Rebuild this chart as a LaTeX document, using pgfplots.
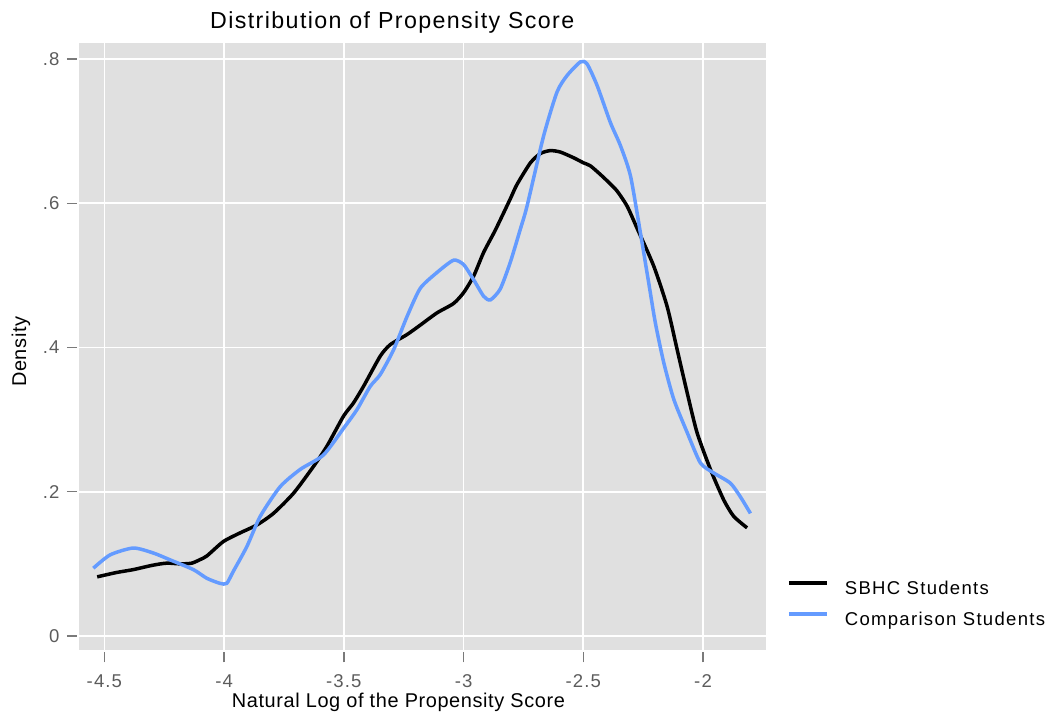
\documentclass[border=0pt]{standalone}
\usepackage{fontspec}
\setmainfont{Liberation Sans}
\newfontfamily\ttlF{Liberation Sans}[LetterSpace=6]
\newfontfamily\labF{Liberation Sans}[LetterSpace=3]
\newfontfamily\tckF{Liberation Sans}[LetterSpace=6]
\newfontfamily\legF{Liberation Sans}[LetterSpace=7]
\newcommand\titlefont{\ttlF\fontsize{23.3}{28}\selectfont}
\newcommand\labfont{\labF\fontsize{20}{24}\selectfont}
\newcommand\tickfont{\tckF\fontsize{18.6}{22}\selectfont}
\newcommand\legfont{\legF\fontsize{18.6}{22}\selectfont}
\usepackage{pgfplots}
\pgfplotsset{compat=1.18}
\definecolor{bgGray}{HTML}{E0E0E0}
\definecolor{blueLine}{RGB}{100,155,255}
\definecolor{tickGray}{HTML}{7A7A7A}
\definecolor{labGray}{HTML}{5C5C5C}
\begin{document}
\begin{tikzpicture}
\path[use as bounding box] (0,0) rectangle (1053bp,717bp);
\begin{axis}[
  at={(79bp,67bp)}, anchor=south west,
  scale only axis, width=687bp, height=607bp,
  xmin=-4.606, xmax=-1.737, ymin=-0.0194, ymax=0.8222,
  axis background/.style={fill=bgGray},
  axis line style={draw=none},
  xmajorgrids, ymajorgrids,
  major grid style={white, line width=1.6bp},
  xtick={-4.5,-4,-3.5,-3,-2.5,-2},
  xticklabels={-4.5,-4,-3.5,-3,-2.5,-2},
  ytick={0,0.2,0.4,0.6,0.8},
  yticklabels={0,.2,.4,.6,.8},
  xtick pos=bottom, ytick pos=left,
  tick align=outside,
  major tick length=10bp,
  tick style={tickGray, line width=1.4bp},
  xtick style={yshift=-2.5bp},
  ytick style={xshift=-2bp},
  xticklabel style={font=\tickfont, text=labGray, yshift=-11bp},
  yticklabel style={font=\tickfont, text=labGray, xshift=-6bp},
  legend style={at={(1.0301,0.0741)}, anchor=west, draw=none, fill=none,
    inner sep=0pt, row sep=13.7bp, font=\legfont,
    nodes={inner sep=0pt, text height=14bp, text depth=4bp},
    /tikz/every odd column/.append style={column sep=16bp}},
  legend cell align=left,
  legend image code/.code={\draw[#1, line width=4bp] (0bp,6.5bp) -- (38bp,6.5bp);},
]
\addplot[black, line width=3.5bp, smooth, tension=0.4] coordinates {
(-4.530,0.082) (-4.450,0.088) (-4.380,0.092) (-4.300,0.098) (-4.240,0.101)
(-4.180,0.100) (-4.135,0.101) (-4.100,0.106) (-4.072,0.111) (-4.003,0.131)
(-3.933,0.143) (-3.863,0.154)
(-3.794,0.170) (-3.710,0.198) (-3.627,0.235) (-3.571,0.263) (-3.501,0.305)
(-3.460,0.323) (-3.418,0.346) (-3.348,0.388) (-3.306,0.404) (-3.236,0.418)
(-3.181,0.431) (-3.111,0.448) (-3.042,0.461) (-3.000,0.476) (-2.958,0.499)
(-2.916,0.532) (-2.867,0.563) (-2.805,0.606) (-2.777,0.626) (-2.721,0.656)
(-2.679,0.669) (-2.638,0.673) (-2.596,0.671) (-2.540,0.663) (-2.499,0.656)
(-2.471,0.652) (-2.429,0.640) (-2.394,0.629) (-2.359,0.617) (-2.317,0.596)
(-2.275,0.565) (-2.206,0.513) (-2.150,0.457) (-2.108,0.397) (-2.066,0.337)
(-2.025,0.282) (-1.969,0.231) (-1.914,0.189) (-1.872,0.166) (-1.816,0.150)
};
\addlegendentry{SBHC Students}
\addplot[blueLine, line width=3.5bp, smooth, tension=0.4] coordinates {
(-4.546,0.094) (-4.476,0.1125) (-4.379,0.122) (-4.295,0.115) (-4.225,0.1055)
(-4.128,0.092) (-4.072,0.080) (-4.017,0.073) (-3.989,0.073) (-3.961,0.090)
(-3.905,0.124) (-3.849,0.166) (-3.766,0.207) (-3.682,0.231) (-3.585,0.251)
(-3.501,0.288) (-3.445,0.314) (-3.390,0.346) (-3.348,0.3625) (-3.292,0.397)
(-3.236,0.443) (-3.181,0.482) (-3.111,0.504) (-3.042,0.521) (-3.000,0.515)
(-2.958,0.494) (-2.916,0.471) (-2.888,0.466) (-2.847,0.481) (-2.805,0.518)
(-2.763,0.564) (-2.735,0.596) (-2.666,0.693) (-2.610,0.754) (-2.568,0.777)
(-2.512,0.796) (-2.484,0.793) (-2.442,0.763) (-2.387,0.712) (-2.345,0.680)
(-2.303,0.638) (-2.262,0.560) (-2.227,0.490) (-2.199,0.434) (-2.164,0.379)
(-2.122,0.328) (-2.066,0.282) (-2.011,0.240) (-1.955,0.226) (-1.886,0.212)
(-1.844,0.193) (-1.802,0.170)
};
\addlegendentry{Comparison Students}
\end{axis}
\node[anchor=base west, inner sep=0pt, font=\titlefont] at (210bp,688.7bp) {Distribution of Propensity Score};
\node[anchor=base west, inner sep=0pt, font=\labfont] at (231.7bp,9.3bp) {Natural Log of the Propensity Score};
\node[anchor=base west, inner sep=0pt, rotate=90, font=\labfont] at (26bp,330bp) {Density};
\end{tikzpicture}
\end{document}
